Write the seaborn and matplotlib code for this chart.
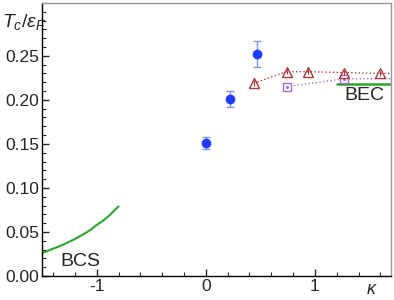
import matplotlib
matplotlib.use("Agg")
import matplotlib.pyplot as plt
import numpy as np
import pandas as pd
import seaborn as sns
from matplotlib.ticker import MultipleLocator

sns.set_style("ticks")
plt.rcParams["font.family"] = ["Liberation Sans", "DejaVu Sans"]
plt.rcParams["mathtext.fontset"] = "custom"
plt.rcParams["mathtext.it"] = "Liberation Sans:italic"
plt.rcParams["mathtext.rm"] = "Liberation Sans"

# measured Tc (blue circles)
kappa_exp = [0.0, 0.22, 0.47]
tc_exp = [0.151, 0.201, 0.252]
tc_err = [0.007, 0.009, 0.015]

# QMC points (red triangles)
kappa_tri = [0.44, 0.74, 0.94, 1.27, 1.60, 1.90]
tc_tri = [0.219, 0.232, 0.232, 0.231, 0.230, 0.230]
tri_err = [0.003, 0.003, 0.003, 0.003, 0.003, 0.003]

# other theory (purple squares)
kappa_sq = [0.74, 1.27, 1.90]
tc_sq = [0.215, 0.224, 0.224]

# BCS limit curve
kappa_bcs = [-1.5, -1.45, -1.4, -1.35, -1.3, -1.25, -1.2, -1.15, -1.1,
             -1.05, -1.0, -0.95, -0.9, -0.85, -0.8]
tc_bcs = [0.026, 0.0285, 0.031, 0.0333, 0.036, 0.039, 0.042, 0.0455, 0.049,
          0.053, 0.058, 0.062, 0.067, 0.073, 0.079]

# BEC limit
kappa_bec = [1.2, 1.8]
tc_bec = [0.218, 0.218]

fig = plt.figure(figsize=(3.94, 3.0), dpi=100)
ax = fig.add_axes([0.107, 0.08, 0.886, 0.91])

green = "#2ca52c"
sns.lineplot(x=kappa_bcs, y=tc_bcs, ax=ax, color=green, lw=1.5)
sns.lineplot(x=kappa_bec, y=tc_bec, ax=ax, color=green, lw=1.8)

purple = "#a66be0"
ax.plot(kappa_sq, tc_sq, ls=":", color=purple, lw=1.0,
        marker="s", ms=5.5, mfc="white", mec=purple, mew=1.0)
ax.plot(kappa_sq, tc_sq, ls="none", marker="o", ms=1.2, color=purple)
ax.errorbar(kappa_tri, tc_tri, yerr=tri_err, fmt="^", ls=":", color="#a83c3c",
            lw=1.0, ms=7, mfc="none", mec="#a83c3c", mew=1.0, elinewidth=0.8)
ax.errorbar(kappa_exp, tc_exp, yerr=tc_err, fmt="o", color="#1f3dff", ms=6,
            ecolor="#8090ff", elinewidth=1.0, capsize=3, capthick=1.0)

ax.set_xlim(-1.5, 1.7)
ax.set_ylim(0, 0.31)
ax.xaxis.set_major_locator(MultipleLocator(1))
ax.xaxis.set_minor_locator(MultipleLocator(0.2))
ax.yaxis.set_major_locator(MultipleLocator(0.05))
ax.yaxis.set_minor_locator(MultipleLocator(0.01))
ax.set_yticks([0, 0.05, 0.10, 0.15, 0.20, 0.25])
ax.set_yticklabels(["0.00", "0.05", "0.10", "0.15", "0.20", "0.25"])
ax.set_xticks([-1, 0, 1])
ax.set_xticklabels(["-1", "0", "1"])
ax.tick_params(which="major", direction="in", length=5, width=1, labelsize=12.5, pad=2)
ax.tick_params(which="minor", direction="in", length=3, width=0.8)

for s in ["left", "bottom"]:
    ax.spines[s].set_color("black")
    ax.spines[s].set_linewidth(1.0)
for s in ["top", "right"]:
    ax.spines[s].set_color("#999999")
    ax.spines[s].set_linewidth(1.0)

ax.text(-1.15, 0.016, "BCS", fontsize=14, ha="center", va="center")
ax.text(1.45, 0.205, "BEC", fontsize=14, ha="center", va="center")
fig.text(0.005, 0.925, r"$T_c/\varepsilon_F$", fontsize=14, ha="left", va="center")
fig.text(0.945, 0.035, r"$\kappa$", fontsize=13, ha="center", va="center")

fig.savefig("out.png", dpi=100)
